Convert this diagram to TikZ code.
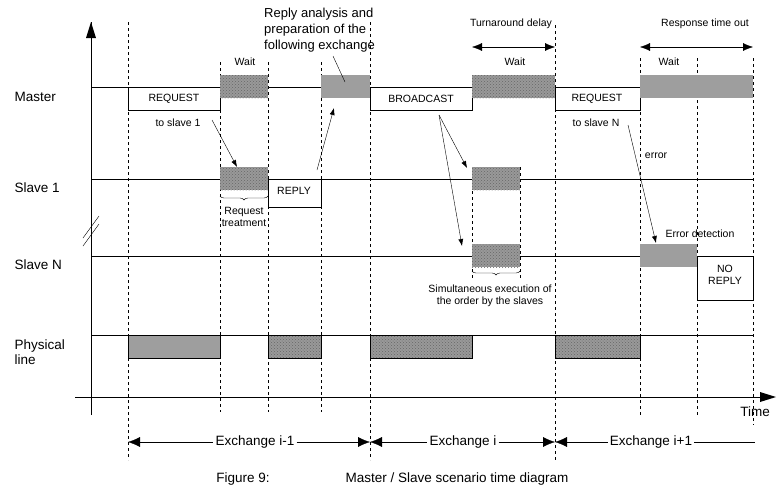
\documentclass[tikz,border=0pt]{standalone}
\usepackage{fontspec}
\setmainfont{Liberation Sans}
\usetikzlibrary{patterns,decorations.pathreplacing,arrows.meta}
\begin{document}
\begin{tikzpicture}[x=1pt,y=-1pt,
  lbl/.style={font=\fontsize{13.5}{15}\selectfont},
  sml/.style={font=\fontsize{10.5}{12}\selectfont},
  box/.style={draw,fill=white},
  hatch/.style={fill=black!40,pattern=crosshatch dots,pattern color=black!60},
  greyblk/.style={fill=black!38},
  dashmark/.style={dashed,thin},
  ptr/.style={-{Latex[length=7pt,width=5pt]},thin}]
  \useasboundingbox (0,0) rectangle (782,488);
  % time lines
  \foreach \y in {87,179,256,335}
    \draw[thin] (91,\y) -- (753,\y);
  \draw[thin] (91,415) -- (91,22);
  \fill (91,22) -- (86,38) -- (96,38) -- cycle;
  \draw[thin] (75,397) -- (772,397);
  \fill (776,397) -- (760,392) -- (760,402) -- cycle;
  \node[lbl] (time) at (755,412) {Time};
  \draw (83,238) -- (99,216) (83,246) -- (99,224);
  % dashed marks
  \foreach \x/\a/\b in {128/22/460,370/22/460,555/25/460,220/62/412,268/62/412,321/62/412,640/58/416,697/58/416,753/58/425,472/167/280,520/167/280}
    \draw[dashmark] (\x,\a) -- (\x,\b);
  % labels of lines
  \node[lbl,anchor=west] (master) at (11,97) {Master};
  \node[lbl,anchor=west] (slave1) at (11,188) {Slave 1};
  \node[lbl,anchor=west] (slaveN) at (11,265) {Slave N};
  \node[lbl,anchor=west,align=left] (phys) at (11,352) {Physical\\line};
%%%
  \draw[box] (128,87) rectangle (220,110);
  \node[sml] (req1) at (174,99) {REQUEST};
  \fill[black!40] (220,75) rectangle (268,98);
  \fill[hatch] (220,75) rectangle (268,98);
  \fill[greyblk] (321,75) rectangle (370,98);
  \draw[box] (370,87) rectangle (472,110);
  \node[sml] (bcast) at (421,99) {BROADCAST};
  \fill[black!40] (472,75) rectangle (555,98);
  \fill[hatch] (472,75) rectangle (555,98);
  \draw[box] (555,87) rectangle (640,110);
  \node[sml] (reqN) at (597,99) {REQUEST};
  \fill[greyblk] (640,75) rectangle (753,98);
  \node[sml] at (245,62) {Wait};
  \node[sml] at (515,62) {Wait};
  \node[sml] at (669,62) {Wait};
%%%
  \fill[black!40] (220,167) rectangle (268,190);
  \fill[hatch] (220,167) rectangle (268,190);
  \draw[box] (268,179) rectangle (321,207);
  \node[sml] (reply) at (294,191) {REPLY};
  \fill[black!40] (472,167) rectangle (520,190);
  \fill[hatch] (472,167) rectangle (520,190);
  \fill[black!40] (472,244) rectangle (520,267);
  \fill[hatch] (472,244) rectangle (520,267);
  \fill[greyblk] (640,244) rectangle (697,267);
  \draw[box] (697,256) rectangle (753,300);
  \node[sml,align=center] (noreply) at (725,275) {NO\\REPLY};
%%%
  \draw[greyblk] (128,335) rectangle (220,358);
  \fill[black!40] (268,335) rectangle (321,358);
  \draw[hatch] (268,335) rectangle (321,358);
  \fill[black!40] (370,335) rectangle (472,358);
  \draw[hatch] (370,335) rectangle (472,358);
  \fill[black!40] (555,335) rectangle (640,358);
  \draw[hatch] (555,335) rectangle (640,358);
%%%
  \draw[decorate,decoration={brace,amplitude=4pt}] (268,196) -- (220,196);
  \node[sml,align=center,inner sep=0pt] (treat) at (244,217) {Request\\treatment};
  \draw[decorate,decoration={brace,amplitude=4pt}] (520,271) -- (472,271);
  \node[sml,align=center,inner sep=0pt] (simul) at (490,296) {Simultaneous execution of\\the order by the slaves};
  \node[sml] (to1) at (178,123) {to slave 1};
  \node[sml] (toN) at (596,123) {to slave N};
  \node[sml] (err) at (656,156) {error};
  \node[sml] (errdet) at (700,234) {Error detection};
  \node[font=\fontsize{13}{16}\selectfont,align=left,anchor=north west,inner sep=0pt] (analysis) at (264,8)
    {Reply analysis and\\preparation of the\\following exchange};
  \coordinate (a1) at (212,120); \coordinate (a2) at (237,167);
  \coordinate (b1) at (317,170); \coordinate (b2) at (334,108);
  \coordinate (c1) at (333,56);  \coordinate (c2) at (345,82);
  \coordinate (d0) at (439,115); \coordinate (d1) at (467,168); \coordinate (d2) at (462,246);
  \coordinate (e1) at (628,125); \coordinate (e2) at (656,243);
  \draw[ptr] (a1) -- (a2);
  \draw[ptr] (b1) -- (b2);
  \draw[thin] (c1) -- (c2);
  \draw[ptr] (d0) -- (d1);
  \draw[ptr] (d0) -- (d2);
  \draw[ptr] (e1) -- (e2);
%%%
  \node[sml] (turn) at (511,24) {Turnaround delay};
  \node[sml] (resp) at (705,24) {Response time out};
  \draw[{Latex[length=10pt,width=8pt]}-{Latex[length=10pt,width=8pt]}] (472,47) -- (555,47);
  \draw[{Latex[length=10pt,width=8pt]}-{Latex[length=10pt,width=8pt]}] (640,47) -- (753,47);
%%%
  \node[lbl,fill=white,inner xsep=2pt] (ex1) at (255,442) {Exchange i-1};
  \node[lbl,fill=white,inner xsep=2pt] (ex2) at (463,442) {Exchange i};
  \node[lbl,fill=white,inner xsep=2pt] (ex3) at (651,442) {Exchange i+1};
  \draw[{Latex[length=12pt,width=10pt]}-] (128,442) -- (ex1);
  \draw[-{Latex[length=12pt,width=10pt]}] (ex1) -- (370,442);
  \draw[{Latex[length=12pt,width=10pt]}-] (370,442) -- (ex2);
  \draw[-{Latex[length=12pt,width=10pt]}] (ex2) -- (555,442);
  \draw[{Latex[length=12pt,width=10pt]}-] (555,442) -- (ex3);
  \draw (ex3) -- (755,442);
  \node[lbl] (fig) at (243,479) {Figure 9:};
  \node[lbl] (cap) at (457,479) {Master / Slave scenario time diagram};
\end{tikzpicture}
\end{document}
